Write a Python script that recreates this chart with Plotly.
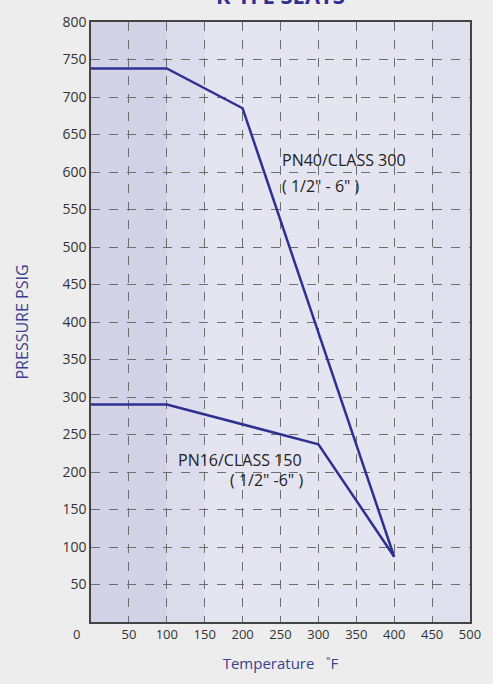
import plotly.graph_objects as go

# Data
temp_300 = [0, 100, 200, 400]
psig_300 = [738, 738, 685, 87]
temp_150 = [0, 100, 300, 400]
psig_150 = [290, 290, 237, 87]
x_ticks = [50, 100, 150, 200, 250, 300, 350, 400, 450, 500]
y_ticks = [50, 100, 150, 200, 250, 300, 350, 400, 450, 500, 550, 600, 650, 700, 750, 800]

navy = "#2e3192"
font_family = "Open Sans, Noto Sans, sans-serif"

fig = go.Figure()
fig.add_trace(go.Scatter(x=temp_300, y=psig_300, mode="lines",
                         line=dict(color=navy, width=2.5), showlegend=False))
fig.add_trace(go.Scatter(x=temp_150, y=psig_150, mode="lines",
                         line=dict(color=navy, width=2.5), showlegend=False))

# shaded background bands
fig.add_shape(type="rect", xref="x", yref="y", x0=0, x1=100, y0=0, y1=800,
              fillcolor="#d4d2e6", line_width=0, layer="below")
fig.add_shape(type="rect", xref="x", yref="y", x0=100, x1=150, y0=0, y1=800,
              fillcolor="#dddcec", line_width=0, layer="below")
fig.add_shape(type="rect", xref="x", yref="y", x0=450, x1=500, y0=0, y1=800,
              fillcolor="#e0dfee", line_width=0, layer="below")

ann_font = dict(size=16, color="#222", family=font_family)
fig.add_annotation(x=249, y=616, text="PN40/CLASS 300", showarrow=False,
                   xanchor="left", font=ann_font)
fig.add_annotation(x=249, y=582, text="( 1/2\" - 6\" )", showarrow=False,
                   xanchor="left", font=ann_font)
fig.add_annotation(x=112, y=216, text="PN16/CLASS 150", showarrow=False,
                   xanchor="left", font=ann_font)
fig.add_annotation(x=181, y=189, text="( 1/2\" -6\" )", showarrow=False,
                   xanchor="left", font=ann_font)
# origin label
fig.add_annotation(xref="paper", yref="paper", x=-0.037, y=-0.02, text="0",
                   showarrow=False, xanchor="center", yanchor="middle",
                   font=dict(size=13, color="#333", family=font_family))
# cropped title
fig.add_annotation(xref="paper", yref="paper", x=0.5, y=1.0, yshift=10,
                   text="<b>R-TFE SEATS</b>", showarrow=False, yanchor="bottom",
                   font=dict(size=22, color=navy, family=font_family))

fig.update_xaxes(range=[0, 500], tickvals=x_ticks, ticks="",
                 showgrid=True, gridcolor="#6e6e6e", griddash="dash", gridwidth=1,
                 showline=True, linecolor="#444", linewidth=1.5, mirror=True,
                 tickfont=dict(size=13, color="#333", family=font_family),
                 title=dict(text="Temperature   ˚F", standoff=16,
                            font=dict(size=15, color="#3a3f8f", family=font_family)),
                 zeroline=False)
fig.update_yaxes(range=[0, 800], tickvals=y_ticks, ticks="",
                 showgrid=True, gridcolor="#6e6e6e", griddash="dash", gridwidth=1,
                 showline=True, linecolor="#444", linewidth=1.5, mirror=True,
                 tickfont=dict(size=14, color="#333", family=font_family),
                 title=dict(text="PRESSURE PSIG", standoff=30,
                            font=dict(size=16, color="#3a3f8f", family=font_family)),
                 zeroline=False)

fig.update_layout(width=493, height=684,
                  margin=dict(l=91, r=22, t=17, b=62),
                  paper_bgcolor="#ededed", plot_bgcolor="#e5e4f1",
                  font=dict(family=font_family))

fig.write_html("out.html", config={"displayModeBar": False},
               post_script="document.body.style.margin='0';document.body.style.overflow='hidden';")
